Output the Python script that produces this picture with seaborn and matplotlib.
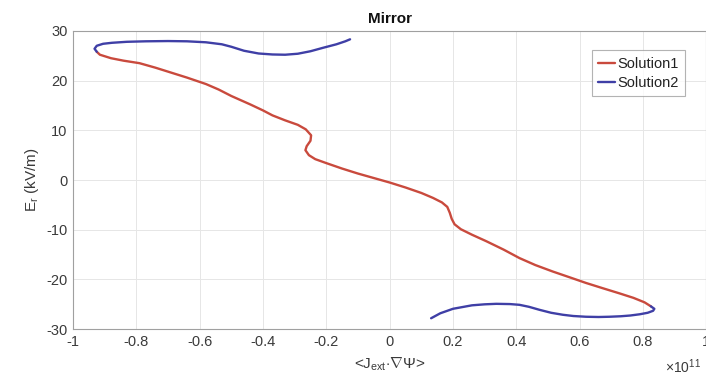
import numpy as np
import pandas as pd
import matplotlib
matplotlib.use("Agg")
import matplotlib.pyplot as plt
import seaborn as sns

# Solution1 (red), traced from the upper tip to the lower tip
sol1_x = [-0.925, -0.915, -0.88, -0.84, -0.79, -0.74, -0.69, -0.64, -0.58, -0.54, -0.50,
          -0.44, -0.40, -0.37, -0.33, -0.29, -0.265, -0.248, -0.250, -0.262, -0.266,
          -0.255, -0.235, -0.20, -0.15, -0.10, -0.05, 0.0, 0.05, 0.10, 0.137, 0.165,
          0.182, 0.190, 0.196, 0.205, 0.225, 0.26, 0.305, 0.36, 0.41, 0.46, 0.515,
          0.57, 0.62, 0.67, 0.726, 0.77, 0.805, 0.825]
sol1_y = [25.8, 25.2, 24.5, 24.0, 23.5, 22.6, 21.6, 20.6, 19.3, 18.2, 16.9,
          15.2, 14.0, 13.0, 12.0, 11.1, 10.2, 9.0, 7.9, 6.8, 6.0,
          5.0, 4.2, 3.4, 2.3, 1.3, 0.4, -0.5, -1.5, -2.6, -3.6, -4.5,
          -5.4, -6.6, -7.8, -8.9, -9.9, -11.0, -12.3, -14.0, -15.7, -17.1, -18.4,
          -19.6, -20.7, -21.7, -22.8, -23.7, -24.6, -25.4]

# Solution2 (blue), upper branch from the tip, then lower branch
sol2a_x = [-0.925, -0.932, -0.925, -0.905, -0.877, -0.83, -0.77, -0.70, -0.64, -0.58,
           -0.53, -0.50, -0.46, -0.414, -0.37, -0.33, -0.29, -0.25, -0.21, -0.168, -0.14, -0.125]
sol2a_y = [25.8, 26.4, 27.0, 27.4, 27.6, 27.8, 27.9, 27.95, 27.9, 27.7,
           27.3, 26.8, 26.0, 25.45, 25.25, 25.2, 25.4, 25.9, 26.6, 27.3, 27.9, 28.3]
sol2b_x = [0.131, 0.16, 0.20, 0.26, 0.30, 0.337, 0.38, 0.41, 0.44, 0.473, 0.51, 0.547,
           0.58, 0.62, 0.66, 0.694, 0.73, 0.76, 0.79, 0.815, 0.832, 0.836, 0.825]
sol2b_y = [-27.8, -26.8, -25.9, -25.2, -25.0, -24.9, -24.95, -25.1, -25.5, -26.1, -26.7, -27.1,
           -27.35, -27.5, -27.55, -27.5, -27.4, -27.25, -27.0, -26.7, -26.3, -25.9, -25.4]

xtick_vals = [-1, -0.8, -0.6, -0.4, -0.2, 0, 0.2, 0.4, 0.6, 0.8, 1]
xtick_labels = ["-1", "-0.8", "-0.6", "-0.4", "-0.2", "0", "0.2", "0.4", "0.6", "0.8", "1"]
ytick_vals = [-30, -20, -10, 0, 10, 20, 30]
ytick_labels = ["-30", "-20", "-10", "0", "10", "20", "30"]

df1 = pd.DataFrame({"x": sol1_x, "y": sol1_y, "order": range(len(sol1_x))})
df2a = pd.DataFrame({"x": sol2a_x, "y": sol2a_y, "order": range(len(sol2a_x))})
df2b = pd.DataFrame({"x": sol2b_x, "y": sol2b_y, "order": range(len(sol2b_x))})

sns.set_theme(style="whitegrid")
plt.rcParams["font.family"] = ["Liberation Sans", "DejaVu Sans"]
plt.rcParams["axes.unicode_minus"] = False
plt.rcParams["mathtext.fontset"] = "custom"
plt.rcParams["mathtext.rm"] = "Liberation Sans"
plt.rcParams["mathtext.it"] = "Liberation Sans"

fig = plt.figure(figsize=(7.06, 3.81), dpi=100)
ax = fig.add_axes([0.1034, 0.136, 0.897, 0.783])

red = "#C94A3D"
blue = "#3F3FA6"
sns.lineplot(data=df1, x="x", y="y", sort=False, estimator=None, color=red, lw=1.7,
             ax=ax, label="Solution1")
sns.lineplot(data=df2a, x="x", y="y", sort=False, estimator=None, color=blue, lw=1.7,
             ax=ax, label="Solution2")
sns.lineplot(data=df2b, x="x", y="y", sort=False, estimator=None, color=blue, lw=1.7,
             ax=ax)

ax.set_xlim(-1, 1)
ax.set_ylim(-30, 30)
ax.set_xticks(xtick_vals)
ax.set_xticklabels(xtick_labels)
ax.set_yticks(ytick_vals)
ax.set_yticklabels(ytick_labels)
ax.tick_params(axis="both", labelsize=10.5, colors="#3A3A3A", direction="in", length=3,
               width=0.6, pad=4)
ax.grid(True, color="#E6E6E6", lw=0.7)
for s in ax.spines.values():
    s.set_color("#A0A0A0")
    s.set_linewidth(0.8)
ax.set_facecolor("white")

ax.set_title("Mirror", fontsize=11, fontweight="bold", color="#111111", pad=6)
ax.set_ylabel(r"E$_r$ (kV/m)", fontsize=11, color="#3A3A3A", labelpad=4)
ax.set_xlabel(r"<J$_{ext}$$\cdot\nabla\Psi$>", fontsize=11, color="#3A3A3A", labelpad=5)
fig.text(0.968, 0.02, r"$\times$10$^{11}$", fontsize=10, color="#3A3A3A", ha="center")

leg = ax.legend(loc="upper right", bbox_to_anchor=(0.967, 0.935), fontsize=10.5,
                frameon=True, fancybox=False, handlelength=1.1, handletextpad=0.2,
                borderpad=0.45, labelspacing=0.35, borderaxespad=0)
leg.get_frame().set_edgecolor("#A0A0A0")
leg.get_frame().set_linewidth(0.8)
for t in leg.get_texts():
    t.set_color("#222222")

fig.savefig("out.png", dpi=100, facecolor="white")
